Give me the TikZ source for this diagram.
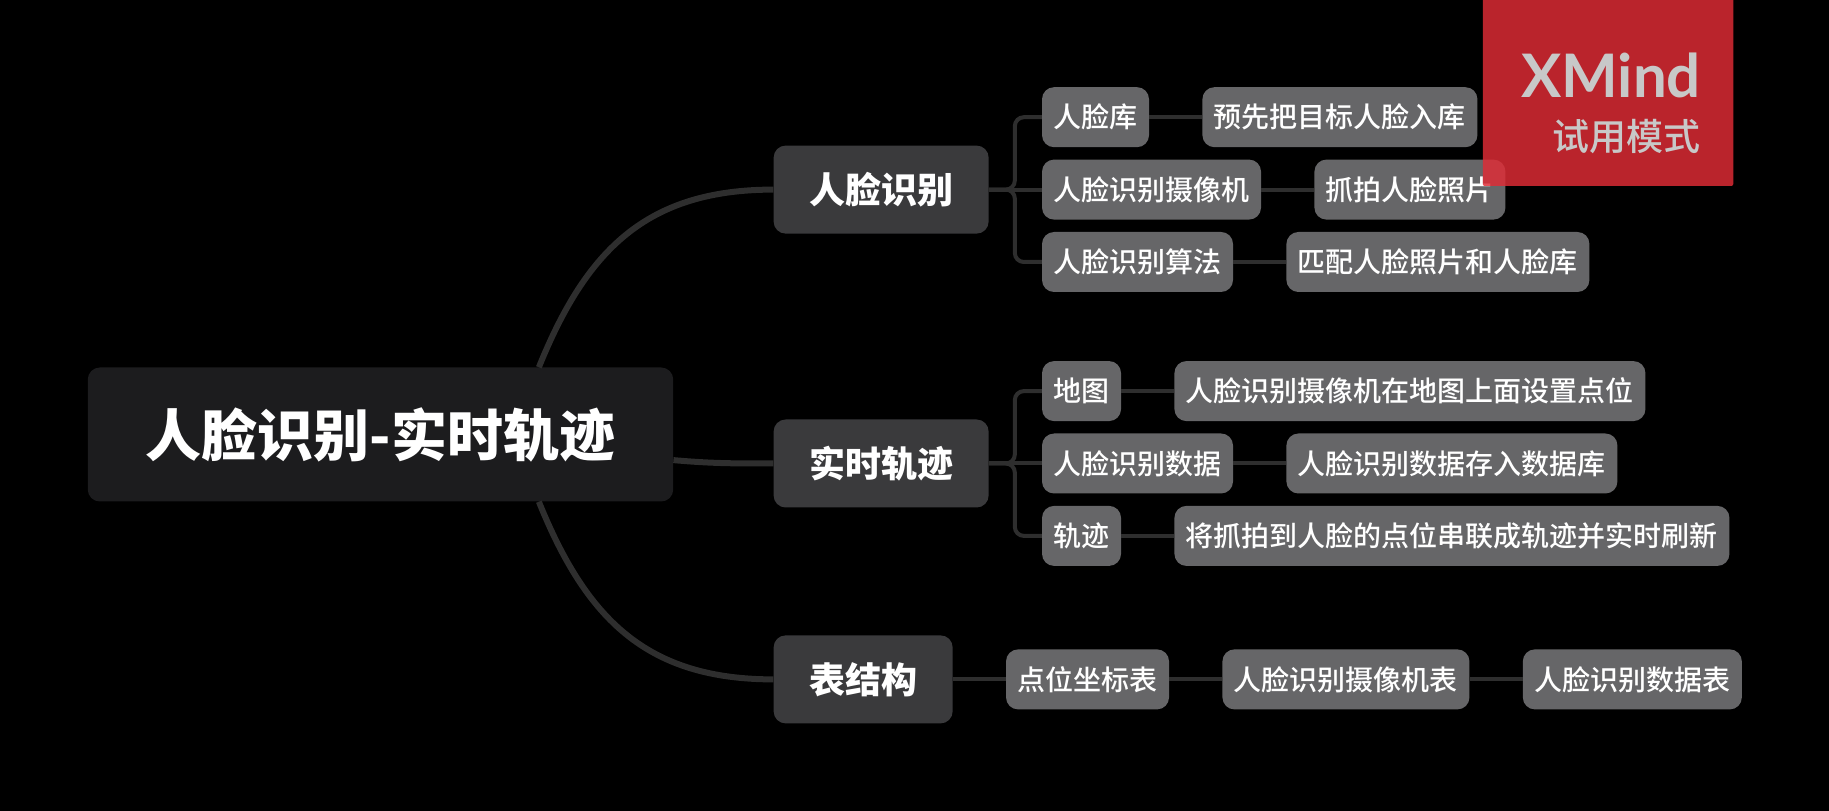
\documentclass[tikz,border=0pt]{standalone}
\usepackage{fontspec}
\setmainfont{Noto Sans CJK SC}[UprightFont=* Medium,BoldFont=* Black]
\newfontfamily\logofont{Lato}
\usetikzlibrary{positioning}
\definecolor{rootfill}{HTML}{1C1C1E}
\definecolor{topicfill}{HTML}{3A3A3C}
\definecolor{subfill}{HTML}{666668}
\definecolor{linegray}{HTML}{2E2E2E}
\definecolor{markred}{HTML}{E02C36}
\definecolor{markgray}{HTML}{C8C8C8}

\begin{document}
\begin{tikzpicture}[x=1pt,y=1pt,node distance = 53pt,
  base/.style={rectangle,rounded corners=12pt,text=white,inner ysep=0pt},
  root/.style={base,fill=rootfill,font=\fontsize{56}{60}\selectfont\bfseries,inner xsep=58pt,minimum height=134pt},
  topic/.style={base,fill=topicfill,font=\fontsize{36}{40}\selectfont\bfseries,inner xsep=35.5pt,minimum height=88pt},
  sub/.style={base,fill=subfill,font=\fontsize{28}{32}\selectfont,inner xsep=11.5pt,minimum height=60pt},
  main line/.style={draw=linegray,line width=6pt},
  sub line/.style={draw=linegray,line width=4pt},
  elbow/.style={rounded corners=9pt,to path={-- ++(26pt,0) |- (\tikztotarget)}}]
\fill[black] (0,0) rectangle (1829,811);
\useasboundingbox (0,0) rectangle (1829,811);

\node[root] (root) at (380.5,376.5) {人脸识别-实时轨迹};
\node[topic] (track) [right=100pt of root,yshift=-29pt] {实时轨迹};
\node[topic] (face) [above=185.5pt of track.north west,anchor=south west] {人脸识别};
\node[topic] (table) [below=127.5pt of track.south west,anchor=north west] {表结构};

\node[sub] (camera) [right=of face] {人脸识别摄像机};
\node[sub] (lib) [above=12pt of camera.north west,anchor=south west] {人脸库};
\node[sub] (algo) [below=12pt of camera.south west,anchor=north west] {人脸识别算法};
\node[sub] (lib_1) [right=of lib] {预先把目标人脸入库};
\node[sub] (camera_1) [right=of camera] {抓拍人脸照片};
\node[sub] (algo_1) [right=of algo] {匹配人脸照片和人脸库};

\node[sub] (data) [right=of track] {人脸识别数据};
\node[sub] (map) [above=12pt of data.north west,anchor=south west] {地图};
\node[sub] (path) [below=12pt of data.south west,anchor=north west] {轨迹};
\node[sub] (map_1) [right=of map] {人脸识别摄像机在地图上面设置点位};
\node[sub] (data_1) [right=of data] {人脸识别数据存入数据库};
\node[sub] (path_1) [right=of path] {将抓拍到人脸的点位串联成轨迹并实时刷新};

\node[sub] (point) [right=of table] {点位坐标表};
\node[sub] (camera_t) [right=of point] {人脸识别摄像机表};
\node[sub] (data_t) [right=of camera_t] {人脸识别数据表};

\path[main line] (root.23) edge [out=68,in=180,looseness=1.1] (face.west)
            (root.-5) edge [out=-5,in=180] (track.west)
            (root.-23) edge [out=-68,in=180,looseness=1.1] (table.west);

\path[sub line] (face.east) edge [elbow] (lib.west)
            edge (camera.west)
            edge [elbow] (algo.west)
            (track.east) edge [elbow] (map.west)
            edge (data.west)
            edge [elbow] (path.west)
            (table) edge (point)
            (point) edge (camera_t)
            (camera_t) edge (data_t)
            (lib) edge (lib_1)
            (camera) edge (camera_1)
            (algo) edge (algo_1)
            (map) edge (map_1)
            (data) edge (data_1)
            (path) edge (path_1);

\node[rectangle,rounded corners=2pt,fill=markred,fill opacity=.83,minimum width=250.5pt,minimum height=190pt] (mark) at (1608,720) {};
\node[text=markgray,font=\fontsize{60}{64}\selectfont\logofont\bfseries,anchor=base east,inner sep=0pt] (mark_1) at (1701,713) {XMind};
\node[text=markgray,font=\fontsize{37}{40}\selectfont,inner sep=0pt] (mark_2) [below=20pt of mark_1.south east,anchor=north east] {试用模式};
\end{tikzpicture}
\end{document}
